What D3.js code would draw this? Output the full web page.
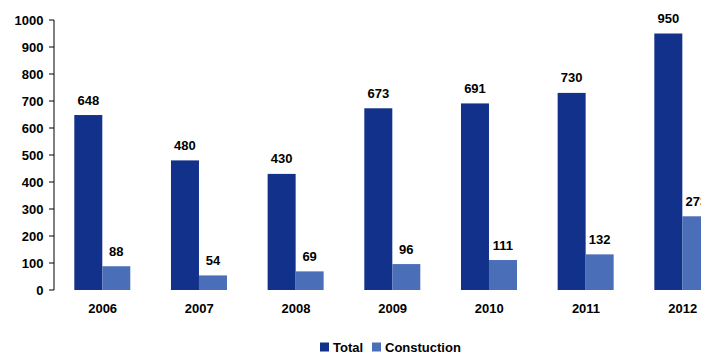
<!DOCTYPE html>
<html><head><meta charset="utf-8">
<script src="https://cdn.jsdelivr.net/npm/d3@7"></script>
<style>body{margin:0;background:#fff}svg{display:block}text{font-family:"Liberation Sans",Arial,sans-serif;font-weight:bold;font-size:13px;fill:#000}</style>
</head><body><svg id="c" width="701" height="354"></svg>
<script>
const years = ["2006","2007","2008","2009","2010","2011","2012"];
const series = ["Total","Constuction"];
const total = [648,480,430,673,691,730,950];
const construction = [88,54,69,96,111,132,273];
const yTicks = [0,100,200,300,400,500,600,700,800,900,1000];
const colors = ["#12318a","#4a6fb8"];

const svg = d3.select("#c");
const x0 = 54, step = 96.67;
const x = d3.scaleBand().domain(years).range([x0, x0 + step*years.length]).padding(0);
const xs = d3.scaleBand().domain(series).range([20.3, 76.3]).padding(0);
const y = d3.scaleLinear().domain([0,1000]).range([290,20]);

const data = years.map((yr,i)=>({yr, vals:[total[i], construction[i]]}));

const g = svg.append("g");
data.forEach(d=>{
  d.vals.forEach((v,j)=>{
    const bx = x(d.yr) + xs(series[j]);
    g.append("rect").attr("x", bx).attr("y", y(v)).attr("width", xs.bandwidth()).attr("height", y(0)-y(v)).attr("fill", colors[j]);
    g.append("text").attr("x", bx + xs.bandwidth()/2).attr("y", y(v) - 10.5).attr("text-anchor","middle").text(v);
  });
  g.append("text").attr("x", x(d.yr) + x.bandwidth()/2 + 0.3).attr("y", 313).attr("text-anchor","middle").text(d.yr);
});

// y axis
const ax = svg.append("g");
ax.append("line").attr("x1",54).attr("x2",54).attr("y1",y(1000)).attr("y2",y(0)).attr("stroke","#000").attr("stroke-width",1);
yTicks.forEach(t=>{
  ax.append("line").attr("x1",49).attr("x2",54).attr("y1",y(t)).attr("y2",y(t)).attr("stroke","#000");
  ax.append("text").attr("x",43.5).attr("y",y(t)).attr("dy","0.42em").attr("text-anchor","end").text(t);
});

// legend
const lg = svg.append("g");
const items = [{s:"Total",x:320},{s:"Constuction",x:372}];
items.forEach((it,j)=>{
  lg.append("rect").attr("x",it.x).attr("y",342.5).attr("width",9).attr("height",9).attr("fill",colors[j]);
  lg.append("text").attr("x",it.x+13).attr("y",352).text(it.s);
});
</script></body></html>
